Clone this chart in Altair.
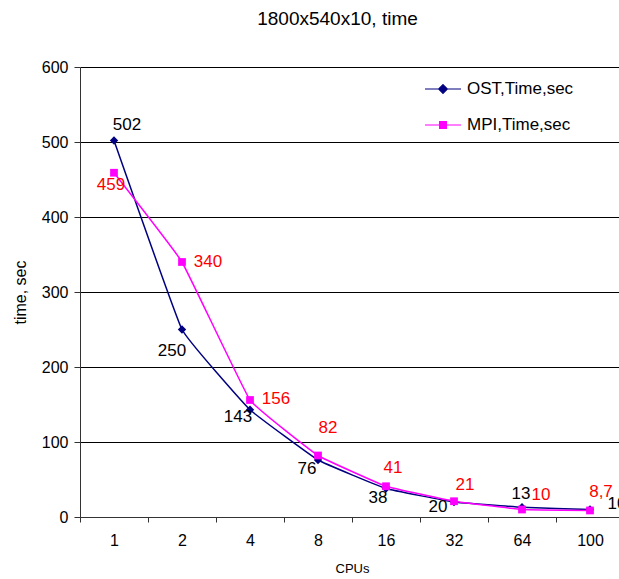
import altair as alt
import pandas as pd

# CPU counts and run times (seconds)
cpus = ["1", "2", "4", "8", "16", "32", "64", "100"]
ost_time = [502, 250, 143, 76, 38, 20, 13, 10]
mpi_time = [459, 340, 156, 82, 41, 21, 10, 8.7]

series_names = ["OST,Time,sec", "MPI,Time,sec"]
line_colors = ["#000080", "#FF00FF"]
label_colors = ["#000000", "#FF0000"]
marker_shapes = ["diamond", "square"]
marker_sizes = [70, 60]

# label placement (dx, dy) next to each point
ost_label_offsets = [(13, -16), (-10, 21), (-12, 7), (-11, 9), (-8, 9), (-16, 5), (-1, -13), (27, -6)]
mpi_label_offsets = [(-3, 12), (26, 0), (26, -1), (10, -28), (7, -18), (11, -16), (19, -15), (11, -18)]

FONT = "Liberation Sans"


def fmt(v):
    return f"{v:g}".replace(".", ",")


frames = []
for name, values in zip(series_names, [ost_time, mpi_time]):
    frames.append(pd.DataFrame({
        "series": name,
        "cpu": cpus,
        "time": values,
        "label": [fmt(v) for v in values],
    }))
df = pd.concat(frames, ignore_index=True)

x_enc = alt.X(
    "cpu:N",
    sort=cpus,
    scale=alt.Scale(range=[0, 544], paddingInner=0, paddingOuter=0),
    axis=alt.Axis(
        title="CPUs",
        labelAngle=0,
        tickBand="extent",
        tickSize=5,
        tickColor="#333333",
        domainColor="#333333",
        labelFontSize=16,
        labelPadding=10,
        titleFontSize=13,
        titleFontWeight="normal",
        titlePadding=14,
        grid=False,
    ),
)
y_enc = alt.Y(
    "time:Q",
    scale=alt.Scale(domain=[0, 600], nice=False),
    axis=alt.Axis(
        title="time, sec",
        values=[0, 100, 200, 300, 400, 500, 600],
        tickSize=6,
        tickColor="#333333",
        domainColor="#333333",
        labelFontSize=16,
        labelPadding=6,
        titleFontSize=16,
        titleFontWeight="normal",
        titlePadding=13,
        grid=True,
        gridColor="#000000",
        gridWidth=1,
    ),
)

layers = []
offset_sets = [ost_label_offsets, mpi_label_offsets]
for i, name in enumerate(series_names):
    base = alt.Chart(df).transform_filter(alt.datum.series == name)
    layers.append(
        base.mark_line(color=line_colors[i], strokeWidth=1.5, interpolate="cardinal", tension=0.75)
        .encode(x=x_enc, y=y_enc)
    )
    layers.append(
        base.mark_point(shape=marker_shapes[i], filled=True, size=marker_sizes[i],
                        color=line_colors[i], opacity=1)
        .encode(x=x_enc, y=y_enc)
    )
    for cpu, (dx, dy) in zip(cpus, offset_sets[i]):
        layers.append(
            base.transform_filter(alt.datum.cpu == cpu)
            .mark_text(dx=dx, dy=dy, fontSize=17, font=FONT, color=label_colors[i],
                       align="center", baseline="middle")
            .encode(x=x_enc, y=y_enc, text="label:N")
        )

# legend: line segment with the series marker
diamond_path = "M-1,0H1M0,-0.24L0.24,0L0,0.24L-0.24,0Z"
square_path = "M-1,0H1M-0.19,-0.19H0.19V0.19H-0.19Z"
legend_cfg = dict(
    title=None,
    orient="none",
    legendX=344,
    legendY=3,
    symbolSize=1296,
    symbolStrokeWidth=1.2,
    labelFontSize=17,
    labelFont=FONT,
    labelColor="#000000",
    labelOffset=5,
    rowPadding=9,
    padding=0,
)
legend_layer = (
    alt.Chart(df)
    .transform_filter("false")
    .mark_point(filled=True, strokeWidth=1.2, opacity=1)
    .encode(
        x=x_enc,
        y=y_enc,
        shape=alt.Shape("series:N", scale=alt.Scale(domain=series_names, range=[diamond_path, square_path]),
                        legend=alt.Legend(**legend_cfg)),
        fill=alt.Fill("series:N", scale=alt.Scale(domain=series_names, range=line_colors),
                      legend=alt.Legend(**legend_cfg)),
        stroke=alt.Stroke("series:N", scale=alt.Scale(domain=series_names, range=line_colors),
                          legend=alt.Legend(**legend_cfg)),
    )
)
layers.append(legend_layer)

chart = (
    alt.layer(*layers)
    .properties(
        width=539,
        height=450,
        padding={"left": 80, "top": 67, "right": 0, "bottom": 62},
        autosize=alt.AutoSizeParams(type="none"),
        title=alt.TitleParams("1800x540x10, time", fontSize=19, font=FONT, fontWeight="normal",
                              frame="group", dx=-12, offset=30, color="#000000"),
    )
    .configure(font=FONT)
    .configure_view(stroke=None)
    .configure_axis(labelFont=FONT, titleFont=FONT, labelColor="#000000", titleColor="#000000")
)

chart.save("out.html", embed_options={"renderer": "svg", "actions": False})
